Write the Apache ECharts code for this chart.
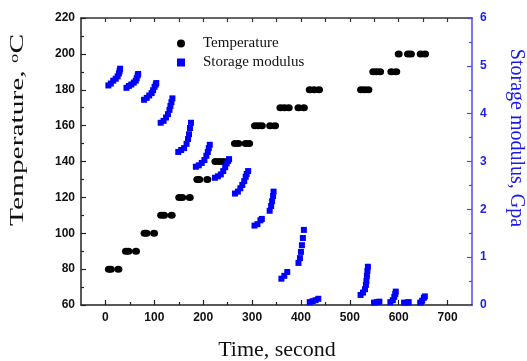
<!DOCTYPE html>
<html>
<head>
<meta charset="utf-8">
<script src="https://cdn.jsdelivr.net/npm/echarts@6/dist/echarts.min.js"></script>
<style>html,body{margin:0;padding:0;background:#fff;}#c{width:527px;height:361px;}</style>
</head>
<body>
<div id="c"></div>
<script>
// Temperature (°C) vs time (s)
const tempTime  = [7, 11, 26.5, 42, 47, 62.5, 80, 84, 99.5, 114, 120, 135.5, 151, 157, 172.5, 188, 192, 208.5,
  225, 233, 241, 265, 272, 287, 294, 306, 313, 320, 337, 347, 358, 366, 375, 395, 406,
  418, 427, 437, 523, 530, 538, 548, 555, 562, 585, 595, 600, 619, 625, 645, 654];
const tempValue = [80, 80, 80, 90, 90, 90, 100, 100, 100, 110, 110, 110, 120, 120, 120, 130, 130, 130,
  140, 140, 140, 150, 150, 150, 150, 160, 160, 160, 160, 160, 170, 170, 170, 170, 170,
  180, 180, 180, 180, 180, 180, 190, 190, 190, 190, 190, 200, 200, 200, 200, 200];

// Storage modulus (GPa) vs time (s)
const modTime = [
  6, 11, 16, 21, 25, 27.5, 29, 30,
  43, 48, 53, 58, 62, 64, 66, 67,
  79, 84.5, 89.5, 94.5, 97.5, 100.5, 103, 104,
  113, 119, 124, 128, 131, 133, 135, 137,
  149, 155, 161, 166, 169, 171, 173, 175,
  185, 191, 197, 202.5, 206.5, 209.5, 211.5, 213.5,
  224, 230, 236, 241, 245, 248, 251, 253,
  265, 271, 276, 280, 284, 287, 289, 292,
  305, 311, 317, 320, 336, 339, 341, 343, 344,
  360, 366, 372, 395, 398, 400, 402, 404, 406,
  418, 424, 430, 435.5,
  522, 527, 531, 533, 534, 535, 536, 537,
  549.5, 555.5, 560.5,
  583, 588, 591, 593, 594,
  611, 617.5, 620.5,
  644, 648, 651.5, 653.5];
const modValue = [
  4.59, 4.63, 4.69, 4.73, 4.78, 4.84, 4.89, 4.94,
  4.54, 4.58, 4.61, 4.65, 4.69, 4.74, 4.80, 4.83,
  4.29, 4.33, 4.38, 4.43, 4.49, 4.56, 4.61, 4.64,
  3.81, 3.85, 3.92, 3.99, 4.08, 4.16, 4.24, 4.32,
  3.20, 3.24, 3.28, 3.37, 3.47, 3.57, 3.70, 3.81,
  2.89, 2.92, 2.97, 3.03, 3.12, 3.20, 3.28, 3.35,
  2.66, 2.69, 2.73, 2.80, 2.88, 2.96, 3.01, 3.05,
  2.33, 2.37, 2.44, 2.51, 2.59, 2.68, 2.74, 2.80,
  1.66, 1.69, 1.77, 1.80, 1.97, 2.07, 2.17, 2.28, 2.37,
  0.55, 0.61, 0.69, 0.88, 0.98, 1.11, 1.25, 1.40, 1.57,
  0.06, 0.08, 0.10, 0.13,
  0.21, 0.26, 0.33, 0.42, 0.50, 0.61, 0.71, 0.80,
  0.05, 0.06, 0.07,
  0.06, 0.10, 0.17, 0.23, 0.28,
  0.05, 0.05, 0.06,
  0.05, 0.09, 0.15, 0.18];

const xMajorTicks = [0, 100, 200, 300, 400, 500, 600, 700];
const xMinorTicks = [50, 150, 250, 350, 450, 550, 650];
const xTopTicks = [0, 50, 100, 150, 200, 250, 300, 350, 400, 450, 500, 550, 600, 650, 700];

const tempData = tempTime.map((t, i) => [t, tempValue[i]]);
const modData = modTime.map((t, i) => [t, modValue[i]]);

const BLUE = '#0000ff';
const AXBLUE = '#4a4af0';
const labelFont = {fontFamily: 'Liberation Sans', fontWeight: 'bold', fontSize: 12, color: '#111'};

const chart = echarts.init(document.getElementById('c'), null, {renderer: 'canvas'});
chart.setOption({
  animation: false,
  backgroundColor: '#fff',
  grid: {left: 81, right: 55, top: 18, bottom: 56, containLabel: false},
  legend: {
    orient: 'vertical', left: 172, top: 31,
    itemWidth: 8, itemHeight: 8, itemGap: 4,
    textStyle: {fontFamily: 'Liberation Serif', fontSize: 15, color: '#111', lineHeight: 15, padding: [0, 0, 0, 13]},
    data: [{name: 'Temperature', icon: 'circle'}, {name: 'Storage modulus', icon: 'rect'}]
  },
  xAxis: [
    {type: 'value', position: 'bottom', min: -50, max: 750,
     axisLine: {show: true, onZero: false, lineStyle: {color: '#222', width: 1.5}},
     axisTick: {show: true, inside: true, length: 5, customValues: xMajorTicks, lineStyle: {color: '#222', width: 1.2}},
     axisLabel: {show: true, margin: 7, customValues: xMajorTicks, ...labelFont},
     splitLine: {show: false}},
    {type: 'value', position: 'bottom', min: -50, max: 750,
     axisLine: {show: false, onZero: false},
     axisTick: {show: true, inside: true, length: 3, customValues: xMinorTicks, lineStyle: {color: '#222', width: 1.2}},
     axisLabel: {show: false}, splitLine: {show: false}},
    {type: 'value', position: 'top', min: -50, max: 750,
     axisLine: {show: true, onZero: false, lineStyle: {color: '#333', width: 1.5}},
     axisTick: {show: true, inside: true, length: 4, customValues: xTopTicks, lineStyle: {color: '#333', width: 1.2}},
     axisLabel: {show: false}, splitLine: {show: false}}
  ],
  yAxis: [
    {type: 'value', position: 'left', min: 60, max: 220, interval: 20,
     axisLine: {show: true, onZero: false, lineStyle: {color: '#222', width: 1.5}},
     axisTick: {show: true, inside: true, length: 5, lineStyle: {color: '#222', width: 1.2}},
     minorTick: {show: true, splitNumber: 2, length: 3, lineStyle: {color: '#222', width: 1.2}},
     axisLabel: {margin: 6, ...labelFont},
     splitLine: {show: false}},
    {type: 'value', position: 'right', min: 0, max: 6, interval: 1,
     axisLine: {show: true, onZero: false, lineStyle: {color: AXBLUE, width: 1.5}},
     axisTick: {show: true, inside: true, length: 5, lineStyle: {color: AXBLUE, width: 1.2}},
     minorTick: {show: true, splitNumber: 2, length: 3, lineStyle: {color: AXBLUE, width: 1.2}},
     axisLabel: {margin: 8, ...labelFont, color: '#2222e6'},
     splitLine: {show: false}}
  ],
  graphic: [
    {type: 'text', x: 18, y: 130, rotation: Math.PI / 2, scaleX: 1.55,
     style: {text: 'Temperature, {sup|o}C', fill: '#111', font: '19px "Liberation Serif"',
       align: 'center', verticalAlign: 'middle',
       rich: {sup: {fontSize: 12, fontFamily: 'Liberation Serif', fill: '#111', verticalAlign: 'top', lineHeight: 19}}}},
    {type: 'text', x: 516, y: 138, rotation: -Math.PI / 2,
     style: {text: 'Storage modulus, Gpa', fill: '#1a1ae6', font: '20px "Liberation Serif"',
       align: 'center', verticalAlign: 'middle'}},
    {type: 'text', x: 277, y: 350,
     style: {text: 'Time, second', fill: '#111', font: '22px "Liberation Serif"',
       align: 'center', verticalAlign: 'middle'}}
  ],
  series: [
    {name: 'Temperature', type: 'scatter', xAxisIndex: 0, yAxisIndex: 0,
     symbol: 'circle', symbolSize: [8, 7], itemStyle: {color: '#000', opacity: 1}, data: tempData, z: 2},
    {name: 'Storage modulus', type: 'scatter', xAxisIndex: 0, yAxisIndex: 1,
     symbol: 'rect', symbolSize: 6, itemStyle: {color: BLUE, opacity: 1}, data: modData, z: 3}
  ]
});
</script>
</body>
</html>
